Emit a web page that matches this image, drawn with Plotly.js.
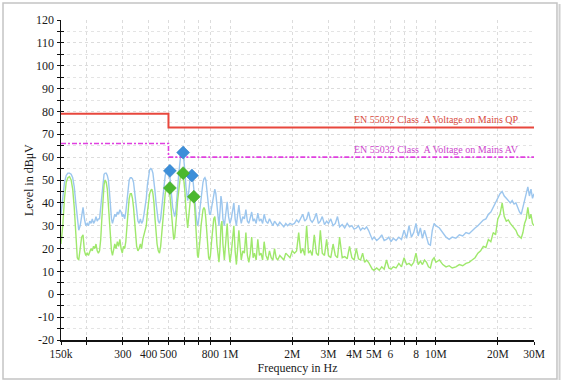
<!DOCTYPE html>
<html>
<head>
<meta charset="utf-8">
<script src="https://cdn.plot.ly/plotly-3.0.1.min.js"></script>
<style>html,body{margin:0;padding:0;background:#fff;}#chart{width:564px;height:383px;}</style>
</head>
<body>
<div id="chart"></div>
<script>
// Frequency in kHz
const freqKHz = [
  150,153,156,159,162,165,168,171,174,177,180,183,186,189,192,195,198,201,204,207,210,213,216,219,222,225,228,
  231,234,237,240,243,246,249,252,255,258,261,264,267,270,274,278,282,286,290,294,298,302,306,310,
  314,318,322,326,330,334,338,342,346,350,355,360,365,370,375,380,385,
  390,395,400,405,410,415,420,425,430,435,440,446,452,458,464,470,476,482,488,494,500,
  506,512,518,524,530,536,542,548,554,560,566,572,578,584,590,596,602,608,614,620,626,632,638,644,650,656,662,668,674,680,686,692,698,704,
  712,720,728,736,744,752,760,768,776,784,792,800,810,820,830,840,850,860,870,880,890,900,
  910,920,935,950,965,980,995,1010,1025,1040,1055,1070,1085,1100,1115,1130,1150,1170,1190,1210,1230,1250,1270,1290,1310,1335,1360,1385,1410,1435,1460,1490,1520,1550,1580,1610,1640,1670,1700,1740,1780,1820,1860,1900,1950,2000,
  2050,2100,2150,2200,2250,2300,2350,2400,2450,2500,2560,2620,2680,2740,2800,2870,2940,3000,3080,3160,3240,3320,3400,3500,3600,3700,3800,3900,4000,4100,4200,4300,4400,4500,4600,4700,
  4800,4900,5000,5150,5300,5450,5600,5750,5900,6050,6200,6400,6600,6800,7000,7200,7400,7600,7800,8000,8200,8400,8600,8800,9000,9200,9400,9600,9800,10000,
  10400,10800,11200,11600,12000,12500,13000,13500,14000,14500,15000,15500,16000,16500,17000,17500,18000,18500,19000,19500,20000,20500,21000,21500,22000,22500,23000,23500,24000,24500,25000,25500,26000,26500,27000,27500,28000,28500,29000,29500,30000
];
// Peak level (blue), dBµV
const peakLevel = [
  35,42,49,52,53,53,52.5,51,47,40,32,28,30,35,38,33,30,31,30,32,31,33,31,32,34,32,33,
  33,38,45,50,52.5,53,53,52,50,45,38,33,31,33,35,34,36,35,37,36,34,35,33,36,
  40,46,50,51,51,50.5,49,45,40,35,32,31,33,31,32,35,38,
  42,48,52,54.5,55,54.5,53,50,45,40,36,32,31,33,38,44,49,52,53.5,54,54.5,
  53,49,43,38,35,34,36,40,46,52,57,60,61.5,62,61.5,58,53,47,43,41,44,48,51,52,52,51,48,44,40,35,32,30,31,34,
  37,42,46,49,50.5,51,50,47,42,38,35,35,38,42,45,46,44,38,33,30,36,43,
  40,33,30,35,40.5,34,31,33,36,40,33,30,35,39,34,31,34,33,37,32,31,33,36,32,33,31,35.5,32,33,31,35,32,31,33,31.5,30,32,31,30,31.5,30.5,29.5,31,30,31,30.5,
  31,32.5,31.5,33,35,32,33,36,32.5,31.5,33,35.5,31,32,34,30.5,32,31,33,30,31,34,29.5,30.5,29,31,29.5,30,28.5,29,30,28,29,28.5,29.5,28,
  26,24,25,23.5,24.5,26,23.5,24,25,23,24.5,23.5,25,24,28,24.5,30,25,27,31,25.5,29,24.5,28,25,22,21.5,28,31,30,
  29,27,25,24,25,24.5,26,25.5,27,26.5,28,29,30,31.5,32.5,33,35,36,38,40,42,44,45,43,42,41,40,41,39.5,40,38,36,35,38,42,45,47,43,46,42,44
];
// Average level (green), dBµV
const avgLevel = [
  22,30,42,49,51,51.5,50,46,38,25,16,15,20,25,26,19,17,18,17,19,20,19,21,20,22,19,18,
  19,24,33,42,48,50,49,46,40,32,24,19,17,19,22,20,23,21,24,20,18,21,20,23,
  28,36,42,44,44,42,38,32,26,21,19,20,22,20,24,26,28,
  30,36,41,44,45.5,46,44,40,33,27,22,19,18,21,27,34,40,44,46,46.5,46,
  45,40,33,27,24,25,29,35,41,46,50,52,53,53,52.5,49,44,37,31,29,33,38,41,42.5,43,43,42,40,35,27,21,17,16,19,
  24,30,35,37,38,37,33,27,20,16,15,17,23,29,33,34,30,22,16,14,20,30,
  32,22,15,22,31,20,14,18,24,30,19,13,20,28,21,15,19,18,27,17,14,18,25,16,18,15,24,17,18,15,23,17,15,19,16,15,20,16,15,17,16,15,18,17,16,19,
  18,19,27,18,20,17,30,18,19,17,26,18,17,28,18,17,24,17,16,22,17,16,25,16,16.5,15.5,21,16,15,20,15.5,15,18,14,15,14,
  12.5,11,10.5,11.5,10.5,12,11,15,11.5,11,12,11.5,13.5,12,16,13,13.5,12.5,14,18,13,14.5,13,15,14,12,11.5,15,16,14,
  15,13,12,12.5,11.5,12,13,12.5,13.5,14,15,16,18,19,21,20.5,24,23,27,26,33,35,40,34,32,32.5,31,30,29,28,26,25,24.5,27,31,33,38,33,35,31,30
];
// Limit lines
const limitFreqKHz = [150, 500, 500, 30000];
const limitQP = [79, 79, 73, 73];
const limitAV = [66, 66, 60, 60];
// Final measurement markers
const markFreqKHz = [508, 589, 650];
const markQP = [54, 62, 52];
const markAvgFreqKHz = [508, 589, 664];
const markAV = [46.5, 53, 42.7];
// Axis ticks
const xTickKHz = [150,200,300,400,500,600,700,800,1000,2000,3000,4000,5000,6000,7000,8000,10000,20000,30000];
const xTickText = ['150k','','300','400','500','','','800','1M','2M','3M','4M','5M','6','','8','10M','20M','30M'];
const yTickVals = [-20,-10,0,10,20,30,40,50,60,70,80,90,100,110,120];
const yTickText = ['-20','-10','0','10','20','30','40','50','60','70','80','90','100','110','120'];

const hz = a => a.map(v => v * 1000);
const serif = 'Liberation Serif, Times New Roman, serif';
const xr = [Math.log10(150e3), Math.log10(30e6)];

const traces = [
  {x: hz(freqKHz), y: peakLevel, type: 'scatter', mode: 'lines', line: {color: '#9cc6ee', width: 1.4}, hoverinfo: 'skip'},
  {x: hz(freqKHz), y: avgLevel, type: 'scatter', mode: 'lines', line: {color: '#9fe86c', width: 1.4}, hoverinfo: 'skip'},
  {x: hz(limitFreqKHz), y: limitQP, type: 'scatter', mode: 'lines', line: {color: '#e8473d', width: 2}},
  {x: hz(limitFreqKHz), y: limitAV, type: 'scatter', mode: 'lines', line: {color: '#e040e0', width: 1.6, dash: '5px,2px,2px,2px'}},
  {x: hz(markFreqKHz), y: markQP, type: 'scatter', mode: 'markers', marker: {symbol: 'diamond', size: 10, color: '#3d8fd9', line: {color: '#2f7cc4', width: 0.5}}},
  {x: hz(markAvgFreqKHz), y: markAV, type: 'scatter', mode: 'markers', marker: {symbol: 'diamond', size: 10, color: '#4cb82e', line: {color: '#3fa324', width: 0.5}}},
  {x: [], y: [], xaxis: 'x2', yaxis: 'y2', type: 'scatter'}
];

const layout = {
  width: 564, height: 383,
  margin: {l: 61, r: 30, t: 20, b: 43},
  paper_bgcolor: '#ffffff', plot_bgcolor: '#ffffff',
  showlegend: false,
  font: {family: serif, size: 12, color: '#1a1a1a'},
  xaxis: {
    type: 'log', range: xr, tickmode: 'array', tickvals: hz(xTickKHz), ticktext: xTickText,
    tickangle: 0,
    ticks: 'outside', ticklen: 3, tickwidth: 1, tickcolor: '#111',
    showline: true, linecolor: '#111', linewidth: 1.5,
    showgrid: true, gridcolor: '#dcdcdc', griddash: 'dot', gridwidth: 1,
    zeroline: false, tickfont: {family: serif, size: 11.5, color: '#1a1a1a'},
    title: {text: 'Frequency in Hz', font: {family: serif, size: 12, color: '#1a1a1a'}, standoff: 4}
  },
  yaxis: {
    range: [-20, 120], tickmode: 'array', tickvals: yTickVals, ticktext: yTickText,
    ticks: 'outside', ticklen: 3, tickwidth: 1, tickcolor: '#111',
    minor: {tickmode: 'linear', tick0: 5, dtick: 10, ticks: 'outside', ticklen: 3, tickcolor: '#111', showgrid: true, gridcolor: '#e4e4e4', griddash: 'dot'},
    showline: true, linecolor: '#111', linewidth: 1.5,
    showgrid: true, gridcolor: '#dcdcdc', griddash: 'dot', gridwidth: 1,
    zeroline: false, tickfont: {family: serif, size: 12, color: '#1a1a1a'}
  },
  xaxis2: {
    type: 'log', range: xr, overlaying: 'x', anchor: 'y', side: 'bottom',
    tickmode: 'array', tickvals: hz(xTickKHz), ticks: 'inside', ticklen: 3, tickcolor: '#111',
    showticklabels: false, showgrid: false, showline: false, zeroline: false
  },
  yaxis2: {
    range: [-20, 120], overlaying: 'y', anchor: 'x', side: 'left',
    tickmode: 'array', tickvals: yTickVals, ticks: 'inside', ticklen: 3, tickcolor: '#111',
    minor: {tickmode: 'linear', tick0: 5, dtick: 10, ticks: 'inside', ticklen: 3, tickcolor: '#111', showgrid: false},
    showticklabels: false, showgrid: false, showline: false, zeroline: false
  },
  annotations: [
    {xref: 'paper', yref: 'paper', x: -0.0677, y: 0.5, xanchor: 'center', yanchor: 'middle', textangle: -90, showarrow: false,
     text: 'Level in dBμV', font: {family: serif, size: 12, color: '#1a1a1a'}},
    {xref: 'paper', yref: 'y', x: 0.972, y: 73, xanchor: 'right', yanchor: 'bottom', yshift: 0, showarrow: false,
     text: 'EN 55032 Class  A Voltage on Mains QP', font: {family: serif, size: 10, color: '#d84a40'}},
    {xref: 'paper', yref: 'y', x: 0.972, y: 60, xanchor: 'right', yanchor: 'bottom', yshift: 0, showarrow: false,
     text: 'EN 55032 Class  A Voltage on Mains AV', font: {family: serif, size: 10, color: '#cc44cc'}}
  ],
  shapes: [
    {type: 'rect', xref: 'paper', yref: 'paper', x0: -0.1226, x1: 1.0486, y0: -0.1219, y1: 1.0531,
     line: {color: '#c4c4c4', width: 1.5}, layer: 'below'},
    {type: 'line', xref: 'paper', yref: 'paper', x0: 1.0540, x1: 1.0540, y0: -0.125, y1: 1.05,
     line: {color: '#d0d0d0', width: 2}}
  ]
};

Plotly.newPlot('chart', traces, layout, {staticPlot: true, displayModeBar: false});
</script>
</body>
</html>
